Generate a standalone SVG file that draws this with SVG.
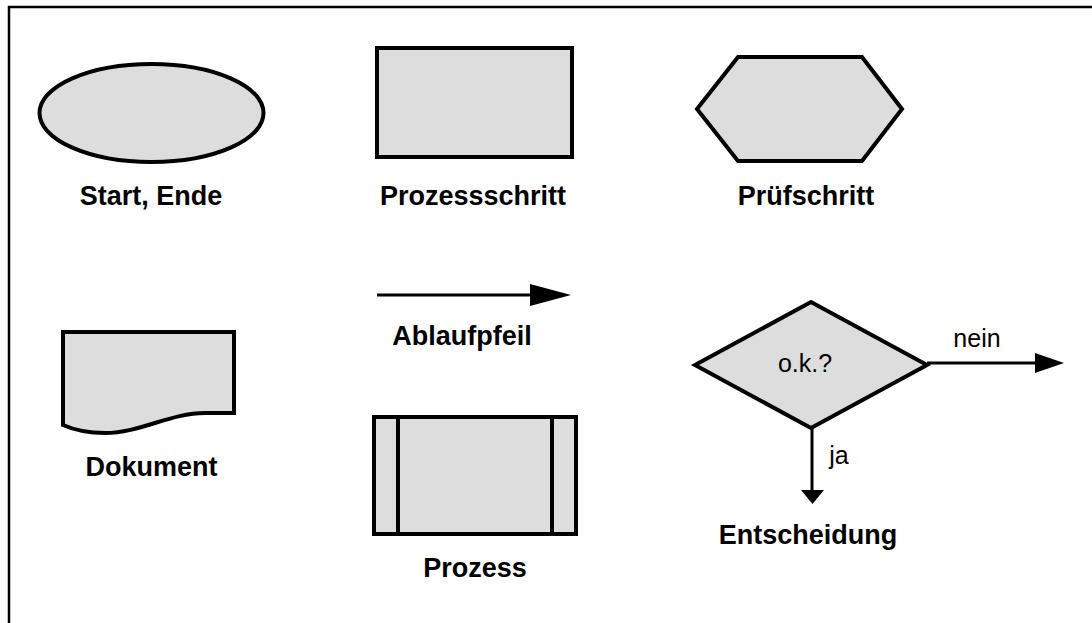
<svg xmlns="http://www.w3.org/2000/svg" width="1092" height="623" viewBox="0 0 1092 623">
  <style>
    .shape { fill: #dddddd; stroke: #000; stroke-width: 4; stroke-linejoin: miter; }
    .bar { fill: none; stroke: #000; stroke-width: 4; }
    .line { fill: none; stroke: #000; stroke-width: 3; }
    .head { fill: #000; stroke: none; }
    .label { font-family: "Liberation Sans", Arial, sans-serif; font-weight: bold; font-size: 27px; fill: #000; text-anchor: middle; }
    .small { font-family: "Liberation Sans", Arial, sans-serif; font-size: 25px; fill: #000; text-anchor: middle; }
  </style>

  <rect width="1092" height="623" fill="#fff"/>
  <!-- frame -->
  <path d="M9,623 V7 H1092" fill="none" stroke="#000" stroke-width="2.5"/>

  <g id="start-ende">
    <ellipse class="shape" cx="151.5" cy="113" rx="112" ry="49"/>
    <text class="label" x="151" y="205">Start, Ende</text>
  </g>

  <g id="prozessschritt">
    <rect class="shape" x="377" y="48" width="195" height="109"/>
    <text class="label" x="473" y="205">Prozessschritt</text>
  </g>

  <g id="pruefschritt">
    <polygon class="shape" points="697,109 738,57 862,57 902,109 862,161 738,161"/>
    <text class="label" x="806" y="205">Prüfschritt</text>
  </g>

  <g id="dokument">
    <path class="shape" d="M63,332 H234 V413 H205 C170,413 140,433 105,433 C85,433 72,429 63,425 Z"/>
    <text class="label" x="151.5" y="476">Dokument</text>
  </g>

  <g id="ablaufpfeil">
    <line class="line" x1="377" y1="295" x2="534" y2="295"/>
    <polygon class="head" points="530,284 571,295 530,306"/>
    <text class="label" x="462" y="345">Ablaufpfeil</text>
  </g>

  <g id="prozess">
    <rect class="shape" x="374" y="417" width="202" height="117"/>
    <line class="bar" x1="398" y1="417" x2="398" y2="534"/>
    <line class="bar" x1="552" y1="417" x2="552" y2="534"/>
    <text class="label" x="475" y="577">Prozess</text>
  </g>

  <g id="entscheidung">
    <polygon class="shape" points="695,365 811,302 927,365 811,428"/>
    <text class="small" x="805" y="372">o.k.?</text>
    <text class="label" x="808" y="544">Entscheidung</text>
  </g>

  <g id="connectors">
    <line class="line" x1="927" y1="363" x2="1038" y2="363"/>
    <polygon class="head" points="1035,353 1064,363 1035,373"/>
    <text class="small" x="977" y="347">nein</text>
    <line class="line" x1="812" y1="428" x2="812" y2="492"/>
    <polygon class="head" points="801,490 824,490 812.5,504"/>
    <text class="small" x="839" y="464">ja</text>
  </g>
</svg>
